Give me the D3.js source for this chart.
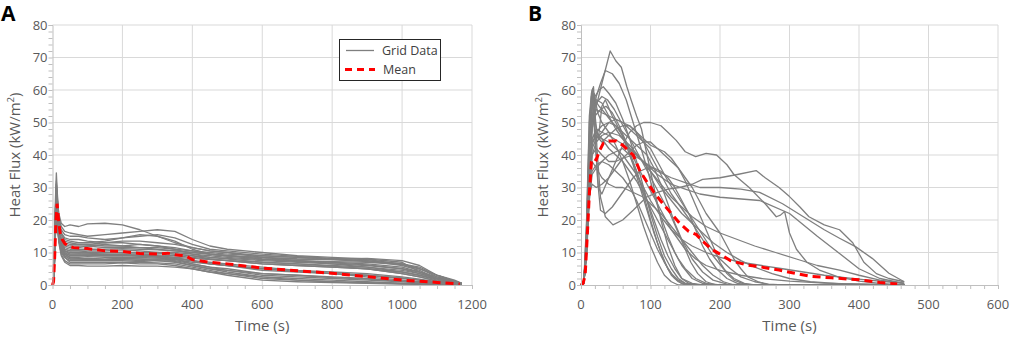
<!DOCTYPE html>
<html>
<head>
<meta charset="utf-8">
<script src="https://cdn.jsdelivr.net/npm/d3@7"></script>
<style>
    body { margin: 0; background: #fff; }
    svg { display: block; }
    text { font-family: "Open Sans", sans-serif; }
</style>
</head>
<body>
<svg id="drawing_region"></svg>
<script>
// ---- panel A : sampled at shared times ----
const timeA = [0, 4, 8, 11, 14, 18, 25, 35, 50, 75, 100, 150, 200, 250, 300, 350, 400, 450, 500, 600, 700, 800, 900, 1000, 1050, 1100, 1150, 1170];
const seriesA = [
    [0, 3, 22, 30, 26, 22, 19, 18, 18.5, 18, 18.8, 19, 18.5, 17, 15, 13, 11.5, 10.5, 10, 8.5, 7.5, 6.5, 5.5, 4, 3, 1.8, 0.8, 0.5],
    [0, 2, 25, 34.5, 28, 21, 18, 16.5, 16, 15.5, 15, 15.5, 16, 16.5, 17, 16.5, 14, 12, 11, 10, 9, 8.5, 8, 7, 4, 2, 1, 0.6],
    [0, 2, 20, 28, 25, 20, 17, 15.5, 15, 15, 14.5, 14, 14.5, 15, 15.5, 14.5, 12.5, 11, 10.5, 9.5, 8.8, 8.2, 7.8, 6.5, 5, 2.5, 1, 0.5],
    [0, 2, 18, 27, 24, 19, 16, 14.5, 14, 14, 13.5, 13, 13.5, 13.5, 13, 12.5, 11.5, 10.5, 10, 9, 8.5, 8, 7.5, 6, 4.5, 2, 0.8, 0.4],
    [0, 2, 21, 31, 26, 20, 15.5, 13.5, 13, 12.5, 12.5, 12, 12, 12.5, 12, 11.5, 10.5, 9.5, 9, 8, 7.5, 7, 6.5, 5.5, 4, 2, 1, 0.5],
    [0, 1.5, 19, 26, 22, 17, 13.5, 12, 11.5, 11.5, 12, 12.5, 12, 11.5, 11, 10.5, 10, 9.5, 9, 8, 7.5, 7.2, 7, 6.3, 5, 3, 1.2, 0.5],
    [0, 2, 20, 29, 24, 18, 13, 11, 10.5, 10.5, 10.5, 10.5, 10.8, 10.5, 10, 10, 9.5, 9, 8.5, 7.8, 7.2, 6.8, 6.2, 5, 3.5, 2, 1, 0.4],
    [0, 1.5, 17, 24, 21, 16, 12, 10.5, 10, 9.8, 10, 10, 10, 9.8, 10, 9.5, 9, 8, 7.5, 6.5, 6, 5.5, 5, 4, 3, 1.5, 0.6, 0.3],
    [0, 2, 22, 32, 27, 19, 13, 10.5, 9.5, 9.5, 9.5, 9.5, 9.5, 9.5, 9.3, 9, 8.5, 8, 7.5, 6.5, 6, 5.5, 5, 3.5, 2.5, 1.2, 0.5, 0.3],
    [0, 1.5, 18, 25, 22, 16, 12, 10, 9, 9, 9, 9, 9, 9.2, 9, 8.5, 7.5, 7, 6.5, 5.5, 4.5, 4, 3.5, 2.5, 1.8, 1, 0.5, 0.2],
    [0, 1.5, 16, 23, 20, 15, 11, 9.5, 8.5, 8.5, 8.7, 8.5, 8.5, 8.5, 8.3, 8, 7.5, 6.5, 6, 5, 4.5, 3.5, 3, 2, 1.5, 0.8, 0.4, 0.2],
    [0, 2, 20, 30, 25, 18, 12, 9.5, 8.5, 8.2, 8.2, 8, 8.2, 8, 8, 7.8, 7, 6.5, 6, 4.5, 4, 3.5, 2.5, 1.5, 1, 0.6, 0.3, 0.2],
    [0, 1.5, 17, 24, 21, 15, 10.5, 9, 8, 8, 8, 7.8, 7.8, 7.5, 7.8, 7.5, 6.5, 5.5, 5, 3.5, 3, 2.5, 2, 1.2, 0.8, 0.5, 0.3, 0.2],
    [0, 1.5, 15, 22, 19, 14, 10, 8.5, 7.5, 7.5, 7.5, 7.5, 7.5, 7.2, 7.5, 7.3, 6, 5, 4, 2.5, 2, 1.5, 1, 0.6, 0.4, 0.3, 0.2, 0.1],
    [0, 2, 19, 27, 23, 16, 10.5, 8.5, 7, 7, 7, 7, 7, 7, 6.8, 6.5, 5.5, 4.5, 3.5, 2, 1.5, 1, 0.7, 0.4, 0.3, 0.2, 0.1, 0.1],
    [0, 1.5, 16, 23, 20, 14, 9.5, 7.5, 6.5, 6.5, 6.5, 6.5, 6.8, 6.5, 6.5, 6, 5, 4, 3, 1.5, 1, 0.7, 0.5, 0.3, 0.2, 0.2, 0.1, 0.1],
    [0, 1.5, 14, 21, 18, 13, 9, 7, 6, 6, 5.8, 5.8, 6, 5.8, 5.8, 5.5, 5, 4, 3.5, 2.5, 1.5, 1, 0.6, 0.4, 0.3, 0.2, 0.1, 0.1],
    [0, 2, 21, 29, 24, 18, 14, 12.5, 12, 12, 12, 11.5, 11.5, 11.5, 11.5, 11, 10.5, 10, 9.5, 9, 8.5, 8, 8.2, 7.5, 6, 3, 1.2, 0.5],
    [0, 2, 18, 26, 22, 17, 13, 11.5, 11, 11, 11, 11, 11.2, 11, 10.8, 10.5, 10, 9.5, 9, 8.5, 8, 7.8, 7.5, 6.5, 5, 3, 1.5, 0.6],
    [0, 1.5, 16, 22, 19, 15, 12, 11, 10.5, 10.5, 10.2, 10, 10, 10, 9.8, 9.5, 9, 8.5, 8.2, 7.5, 7, 6.5, 6, 5, 4, 2.5, 1, 0.4],
    [0, 1.5, 15, 20, 18, 14, 11, 9.5, 9.5, 9.5, 9.5, 9.3, 9.5, 9, 8.8, 8.5, 8.2, 7.8, 7.5, 7, 6.5, 6, 5.5, 4.5, 3.5, 2, 0.8, 0.3],
    [0, 2, 20, 28, 23, 17, 12.5, 10.5, 10, 10, 9.8, 9.5, 9.3, 9, 8.7, 8.2, 7.5, 6.5, 6, 5, 4.2, 3.5, 3, 2.2, 1.5, 0.8, 0.4, 0.2],
    [0, 1.5, 17, 25, 21, 15, 11.5, 10, 9, 9, 9.2, 9, 9, 8.8, 8.5, 8, 6.5, 5.5, 4.5, 3, 2.5, 2, 1.5, 1, 0.6, 0.4, 0.2, 0.1],
    [0, 2, 19, 27, 22, 16, 11, 9, 8, 8, 7.8, 7.8, 8, 8, 7.5, 7, 6, 5, 4.5, 3.5, 3, 2.3, 1.8, 1.2, 0.8, 0.5, 0.3, 0.2],
    [0, 2, 22, 31, 26, 20, 16, 14, 13.5, 13, 13, 13.5, 14.5, 15.5, 15, 13.5, 11, 9.5, 9, 8.5, 8, 7.8, 7.2, 6.5, 5.5, 3, 1.2, 0.5],
    [0, 2, 20, 28, 24, 18, 14.5, 13, 12.5, 12.5, 12.5, 13, 13, 12.5, 12, 11, 9.5, 8.5, 8, 7, 6.5, 5.8, 5, 3.5, 2.5, 1.3, 0.6, 0.3]
];
const meanTimeA = [0, 3, 6, 9, 11, 13, 15, 18, 22, 28, 35, 45, 60, 100, 150, 200, 250, 300, 330, 350, 380, 400, 450, 500, 600, 700, 800, 900, 1000, 1100, 1165];
const meanA = [0, 1, 8, 17, 22, 25, 23, 19, 16, 14, 12.8, 12, 11.5, 11.2, 10.5, 10.3, 9.7, 9.5, 9.8, 9.3, 9, 7.8, 7, 6.5, 5.2, 4.4, 3.6, 2.6, 1.5, 0.8, 0.3];

// ---- panel B : [time, value] pairs ----
const seriesB = [
    [[0,0],[4,0.5],[8,10],[12,32],[16,48],[22,55],[30,62],[36,67],[42,72],[50,69],[58,67],[66,61],[72,57],[80,52],[87,48],[95,40],[105,30],[115,20],[125,12],[135,6],[145,2],[155,0.5],[170,0],[465,0]],
    [[0,0],[4,0.5],[8,12],[12,35],[16,50],[22,58],[28,62],[35,66],[45,65],[55,62],[65,57],[75,50],[85,43],[95,36],[105,28],[115,21],[125,15],[135,10],[145,6],[160,2],[175,0.5],[190,0],[465,0]],
    [[0,0],[4,0.5],[8,15],[12,45],[15,58],[18,61],[21,50],[25,45],[30,55],[35,57],[45,52],[55,48],[65,43],[75,37],[85,30],[95,23],[105,16],[115,10],[125,5],[135,2],[145,0.5],[160,0],[465,0]],
    [[0,0],[4,0.5],[8,18],[12,50],[16,60],[20,45],[25,30],[30,28],[40,33],[50,38],[60,43],[70,47],[80,49],[90,50],[100,50],[115,49],[125,47],[137,44.5],[150,41],[165,39.5],[180,40.5],[195,40],[210,37],[220,34],[242,30],[265,25],[281,21],[287,21.5],[293,22.6],[300,16],[310,11],[325,7],[343,4.6],[370,2.5],[400,1.2],[430,0.5],[450,0.2],[465,0]],
    [[0,0],[4,0.5],[8,15],[12,42],[16,56],[19,58],[23,42],[28,27],[35,21],[46,18.5],[60,20],[75,23],[94,27],[110,28.5],[125,29.5],[142,30],[160,31],[175,32.5],[200,33],[225,34],[252,35.2],[265,33],[285,30],[300,27.2],[315,24],[328,21],[350,18.5],[372,17],[391,13],[407,7],[425,3.5],[443,2],[465,1]],
    [[0,0],[4,0.5],[8,10],[12,30],[16,40],[22,42],[30,40],[40,38],[50,38],[60,39],[75,40],[90,38],[110,35],[130,33],[150,31.5],[171,30],[200,30],[230,29.5],[257,28.5],[290,25],[320,21],[350,17],[372,14.4],[395,11.8],[419,8.2],[443,3.6],[465,1]],
    [[0,0],[4,0.5],[8,14],[12,38],[16,52],[22,57],[30,56],[40,52],[50,48],[60,45],[70,42],[80,40],[95,37],[110,34],[130,31],[150,29.5],[171,28],[200,27],[257,26],[300,22],[340,15],[372,9.7],[400,5],[430,2],[465,0.5]],
    [[0,0],[4,0.5],[8,12],[12,33],[16,45],[22,48],[30,47],[40,46],[55,44],[70,42],[85,39],[100,35],[115,31],[130,27],[145,24],[160,21],[180,18],[200,16],[225,14],[250,12],[280,10],[310,8],[340,6],[372,4.6],[400,3],[430,1.5],[465,0.5]],
    [[0,0],[4,0.5],[8,15],[12,42],[16,55],[20,57],[26,55],[34,53],[45,50],[55,48],[65,46],[75,44],[85,42],[95,40],[105,36],[115,31],[125,25],[135,19],[145,14],[160,8],[175,4],[190,1.5],[210,0.3],[230,0],[465,0]],
    [[0,0],[4,0.5],[8,10],[12,30],[16,42],[22,45],[30,47],[40,50],[50,51],[60,50],[70,48],[80,46],[90,44],[100,42],[110,38],[125,32],[140,27],[155,22],[170,17],[185,12],[200,8],[215,5],[230,2.5],[250,1],[270,0.3],[290,0],[465,0]],
    [[0,0],[4,0.5],[8,13],[12,37],[16,48],[20,52],[28,54],[36,55],[45,53],[55,49],[65,44],[75,38],[85,32],[95,26],[105,20],[115,14],[125,9],[135,5],[145,2],[160,0.5],[175,0],[465,0]],
    [[0,0],[4,0.5],[8,11],[12,33],[16,45],[22,47],[30,45],[40,42],[50,40],[60,38],[70,35],[80,32],[90,28],[100,24],[110,20],[120,16],[130,12],[140,8],[150,5],[165,2],[180,0.5],[200,0],[465,0]],
    [[0,0],[4,0.5],[8,14],[12,40],[16,54],[20,58],[26,60],[32,61],[40,59],[50,56],[60,51],[70,45],[80,38],[90,30],[100,22],[110,15],[120,9],[130,5],[140,2],[150,0.5],[165,0],[465,0]],
    [[0,0],[4,0.5],[8,10],[12,28],[16,35],[22,37],[30,38],[40,37],[50,35],[60,33],[70,30],[80,26],[90,21],[100,16],[110,11],[120,7],[130,3.5],[140,1.5],[150,0.5],[165,0],[465,0]],
    [[0,0],[4,0.5],[8,12],[12,34],[16,44],[22,46],[30,44],[40,46],[50,48],[60,49],[70,49],[80,47],[90,44],[100,40],[110,36],[120,32],[130,28],[140,25],[150,22],[160,19],[175,14],[190,9],[205,5],[220,2],[235,0.5],[250,0],[465,0]],
    [[0,0],[4,0.5],[8,20],[12,52],[15,59],[17,60.5],[20,48],[24,32],[28,23],[35,22],[45,24],[55,27],[65,30],[75,33],[85,35],[95,36],[105,36],[115,35],[125,33],[135,30],[145,26],[155,22],[165,17],[175,12],[185,8],[195,5],[210,2],[225,0.5],[240,0],[465,0]],
    [[0,0],[4,0.5],[8,12],[12,28],[16,31],[22,30],[30,31],[40,33],[50,36],[60,39],[70,41],[80,43],[90,44],[100,44],[110,42],[120,40],[130,38],[140,36],[150,33],[160,30],[170,26],[180,22],[190,19],[200,16],[210,12],[220,8],[230,5],[240,2.5],[255,1],[270,0],[465,0]],
    [[0,0],[4,0.5],[8,13],[12,37],[16,50],[22,54],[30,53],[40,52],[50,51],[60,50],[70,49],[80,47],[90,45],[100,43],[110,42],[120,41],[130,39],[140,36],[150,32],[160,27],[170,22],[180,17],[190,12],[200,7],[210,3.5],[220,1.5],[235,0.3],[250,0],[465,0]],
    [[0,0],[4,0.5],[8,16],[12,45],[16,57],[19,59],[24,53],[30,50],[40,47],[50,43],[60,38],[70,32],[80,25],[90,18],[100,12],[110,7],[120,3],[130,1],[140,0],[465,0]],
    [[0,0],[4,0.5],[8,9],[12,26],[16,34],[22,36],[30,38],[40,40],[50,41],[60,42],[70,40],[80,35],[90,28],[100,20],[110,13],[120,7],[130,3],[140,1],[150,0],[465,0]],
    [[0,0],[4,0.5],[8,11],[12,30],[16,38],[22,36],[30,33],[40,31],[50,30],[60,30],[70,29],[80,28],[90,27],[100,25],[115,22],[130,18],[145,14],[160,10],[175,6],[190,3],[205,1],[220,0],[465,0]],
    [[0,0],[4,0.5],[8,14],[12,40],[16,52],[22,56],[30,58],[38,57],[48,54],[58,50],[68,46],[78,42],[88,38],[98,34],[108,30],[118,26],[128,22],[138,17],[148,12],[158,7],[168,3.5],[180,1],[195,0],[465,0]],
    [[0,0],[4,0.5],[8,12],[12,33],[16,44],[22,46],[30,45],[40,44],[50,42],[60,40],[70,37],[80,34],[90,30],[100,26],[115,21],[130,17],[145,14],[160,12],[180,10],[200,8.5],[230,7],[260,6],[290,5],[320,4],[350,3],[380,2.3],[410,1.6],[440,1],[465,0.5]],
    [[0,0],[4,0.5],[8,11],[12,32],[16,43],[22,47],[30,49],[40,50],[50,49],[60,46],[70,42],[80,37],[90,33],[100,29],[110,25],[120,21],[130,17],[140,14],[150,11],[165,8],[180,6],[200,4.5],[230,3],[260,2],[300,1.2],[350,0.6],[400,0.3],[465,0]],
    [[0,0],[4,0.5],[8,10],[12,30],[16,40],[22,44],[30,46],[40,47],[55,46],[70,43],[85,39],[100,35],[115,30],[130,26],[145,22],[160,19],[175,16],[190,13],[210,10],[230,7.5],[250,5.5],[275,3.5],[300,2],[330,1],[370,0.4],[465,0]]
];
const meanB = [[0,0],[3,0.5],[6,3],[9,15],[12,28],[15,38],[18,39],[22,38.5],[26,41],[32,43.6],[40,44.3],[51,44.3],[60,43],[75,40],[85,35],[94,32],[105,28.5],[118,25],[130,22],[142,19],[155,16.5],[166,15.5],[175,13.5],[188,11],[200,9.5],[215,7.5],[238,6.2],[260,5.5],[285,4.6],[310,3.5],[333,2.6],[360,2.2],[400,1.6],[430,0.8],[455,0.3]];

// ---- axes ----
const yTicks = [0, 10, 20, 30, 40, 50, 60, 70, 80];
const xTicksA = [0, 200, 400, 600, 800, 1000, 1200];
const xTicksB = [0, 100, 200, 300, 400, 500, 600];

const svg = d3.select('#drawing_region')
    .attr('width', 1010)
    .attr('height', 337);

class HeatPanel {
    constructor(config, series, mean) {
        this.config = config;
        this.series = series;
        this.mean = mean;
        this.init();
    }

    init() {
        let self = this;
        let c = self.config;

        self.g = svg.append('g');

        self.xscale = d3.scaleLinear()
            .domain([0, c.xmax])
            .range([c.left, c.right]);

        self.yscale = d3.scaleLinear()
            .domain([0, 80])
            .range([285, 25]);

        self.line = d3.line()
            .x(d => self.xscale(d[0]))
            .y(d => self.yscale(d[1]));
    }

    render() {
        let self = this;
        let c = self.config;
        let x = self.xscale, y = self.yscale;

        // gridlines
        self.g.append('g').selectAll('line.h')
            .data(yTicks.slice(1))
            .join('line')
            .attr('x1', c.left).attr('x2', c.right)
            .attr('y1', d => y(d)).attr('y2', d => y(d))
            .attr('stroke', '#d9d9d9').attr('stroke-width', 1);

        self.g.append('g').selectAll('line.v')
            .data(c.xticks.slice(1))
            .join('line')
            .attr('x1', d => x(d)).attr('x2', d => x(d))
            .attr('y1', y(0)).attr('y2', y(80))
            .attr('stroke', '#d9d9d9').attr('stroke-width', 1);

        // grid data
        self.g.append('g').selectAll('path')
            .data(self.series)
            .join('path')
            .attr('d', self.line)
            .attr('fill', 'none')
            .attr('stroke', '#7f7f7f')
            .attr('stroke-width', 1.3)
            .attr('stroke-linejoin', 'round');

        // mean
        self.g.append('path')
            .datum(self.mean)
            .attr('d', self.line)
            .attr('fill', 'none')
            .attr('stroke', '#ff0000')
            .attr('stroke-width', 3)
            .attr('stroke-dasharray', '8,5');

        // minor ticks + axis lines
        let yaxis = d3.axisLeft(y)
            .tickValues(d3.range(0, 81, 2))
            .tickSize(4)
            .tickFormat('');
        self.g.append('g')
            .attr('transform', `translate(${c.left},0)`)
            .call(yaxis)
            .call(g => g.selectAll('line, path').attr('stroke', '#bfbfbf'));

        let xaxis = d3.axisBottom(x)
            .tickValues(d3.range(0, c.xmax + 1, c.minor))
            .tickSize(4)
            .tickSizeOuter(0)
            .tickFormat('');
        self.g.append('g')
            .attr('transform', `translate(0,${y(0)})`)
            .call(xaxis)
            .call(g => g.selectAll('line, path').attr('stroke', '#bfbfbf'));

        // tick labels
        self.g.append('g').selectAll('text')
            .data(yTicks)
            .join('text')
            .attr('x', c.left - 5)
            .attr('y', d => y(d))
            .attr('dy', '0.35em')
            .attr('text-anchor', 'end')
            .attr('font-size', 13)
            .attr('fill', '#595959')
            .text(d => d);

        self.g.append('g').selectAll('text')
            .data(c.xticks)
            .join('text')
            .attr('x', d => x(d))
            .attr('y', 309)
            .attr('text-anchor', 'middle')
            .attr('font-size', 13)
            .attr('fill', '#595959')
            .text(d => d);

        // axis titles
        self.g.append('text')
            .attr('x', (c.left + c.right) / 2)
            .attr('y', 331)
            .attr('text-anchor', 'middle')
            .attr('font-size', 15)
            .attr('fill', '#595959')
            .text('Time (s)');

        let yt = self.g.append('text')
            .attr('transform', `translate(${c.left - 33},155) rotate(-90)`)
            .attr('text-anchor', 'middle')
            .attr('font-size', 15)
            .attr('fill', '#595959');
        yt.append('tspan').text('Heat Flux (kW/m');
        yt.append('tspan').attr('font-size', 9.5).attr('dy', -6).text('2');
        yt.append('tspan').attr('dy', 6).text(')');

        // panel letter
        self.g.append('text')
            .attr('x', c.letterX)
            .attr('y', 21)
            .attr('font-family', '"Liberation Sans", Arial, sans-serif')
            .attr('font-weight', 'bold')
            .attr('font-size', 21)
            .attr('fill', '#000')
            .text(c.letter);
    }
}

const pairsA = seriesA.map(vals => vals.map((v, i) => [timeA[i], v]));
const meanPairsA = meanA.map((v, i) => [meanTimeA[i], v]);

const panelA = new HeatPanel({ left: 52.5, right: 472, xmax: 1200, xticks: xTicksA, minor: 50, letter: 'A', letterX: 1 }, pairsA, meanPairsA);
panelA.render();

const panelB = new HeatPanel({ left: 581, right: 998, xmax: 600, xticks: xTicksB, minor: 20, letter: 'B', letterX: 528 }, seriesB, meanB);
panelB.render();

// legend (panel A)
const legend = svg.append('g');
legend.append('rect')
    .attr('x', 339.5).attr('y', 39.5)
    .attr('width', 101).attr('height', 41)
    .attr('fill', '#fff')
    .attr('stroke', '#262626')
    .attr('stroke-width', 1);
legend.append('line')
    .attr('x1', 346).attr('x2', 374).attr('y1', 50.5).attr('y2', 50.5)
    .attr('stroke', '#7f7f7f').attr('stroke-width', 1.3);
legend.append('line')
    .attr('x1', 345).attr('x2', 375).attr('y1', 69.5).attr('y2', 69.5)
    .attr('stroke', '#ff0000').attr('stroke-width', 3).attr('stroke-dasharray', '7,5');
legend.append('text')
    .attr('x', 382).attr('y', 55)
    .attr('font-size', 12.5).attr('fill', '#404040')
    .text('Grid Data');
legend.append('text')
    .attr('x', 383).attr('y', 74)
    .attr('font-size', 12.5).attr('fill', '#404040')
    .text('Mean');
</script>
</body>
</html>
